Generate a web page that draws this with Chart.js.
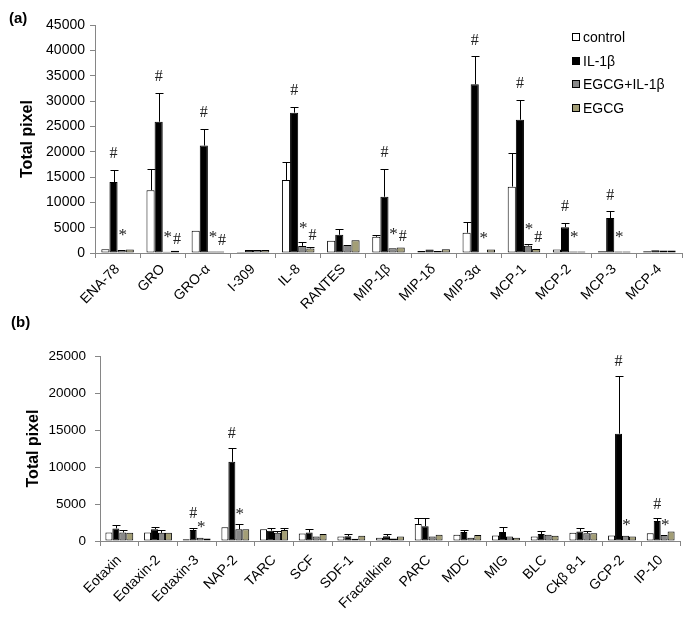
<!DOCTYPE html>
<html><head><meta charset="utf-8">
<script src="https://cdn.jsdelivr.net/npm/chart.js@4.4.1/dist/chart.umd.min.js"></script>
<style>
html,body{margin:0;padding:0;background:#fff;}
#wrap{position:relative;width:690px;height:626px;overflow:hidden;}
#ca{position:absolute;left:0;top:0;}
#cb{position:absolute;left:0;top:310px;}
.lbl{position:absolute;font:bold 15px "Liberation Sans",Arial,sans-serif;color:#000;}
</style></head><body>
<div id="wrap">
<canvas id="ca" width="690" height="310"></canvas>
<canvas id="cb" width="690" height="316"></canvas>
<div class="lbl" style="left:9px;top:9px">(a)</div>
<div class="lbl" style="left:11px;top:313px">(b)</div>
</div>
<script>
// ---------- Panel (a) data ----------
const catsA = ['ENA-78','GRO','GRO-α','I-309','IL-8','RANTES','MIP-1β','MIP-1δ','MIP-3α','MCP-1','MCP-2','MCP-3','MCP-4'];
const controlA    = [750, 12400, 4400, 200, 14400, 2400, 3200, 400, 4000, 13100, 700, 350, 350];
const controlErrA = [0, 4200, 0, 0, 3600, 0, 400, 0, 2100, 6700, 0, 0, 0];
const il1bA       = [14000, 25900, 21200, 600, 27700, 3600, 11100, 700, 33300, 26300, 5100, 6900, 550];
const il1bErrA    = [2400, 5700, 3300, 0, 1200, 1150, 5500, 0, 5500, 3900, 800, 1300, 0];
const combA       = [600, 250, 300, 600, 1400, 1600, 950, 400, 150, 1450, 300, 300, 500];
const combErrA    = [0, 0, 0, 0, 700, 0, 0, 0, 0, 400, 0, 0, 0];
const egcgA       = [700, 450, 300, 600, 900, 2500, 1100, 750, 700, 800, 300, 300, 500];
const egcgErrA    = [0, 0, 0, 0, 300, 0, 0, 0, 0, 0, 0, 0, 0];
const il1bMarksA  = ['#','#','#','','#','','#','','#','#','#','#',''];
const combMarksA  = ['*','*','*','','*','','*','','*','*','*','*',''];
const egcgMarksA  = ['','#','#','','#','','#','','','#','','',''];
const ticksA = {min:0, max:45000, step:5000};

// ---------- Panel (b) data ----------
const catsB = ['Eotaxin','Eotaxin-2','Eotaxin-3','NAP-2','TARC','SCF','SDF-1','Fractalkine','PARC','MDC','MIG','BLC','Ckβ 8-1','GCP-2','IP-10'];
const controlB    = [1150, 1150, 230, 1850, 1600, 1000, 600, 450, 2300, 850, 750, 600, 1100, 750, 1050];
const controlErrB = [0, 0, 0, 0, 0, 0, 0, 0, 800, 0, 0, 0, 0, 0, 0];
const il1bB       = [1700, 1600, 1500, 10700, 1400, 1150, 650, 650, 2000, 1200, 1200, 950, 1300, 14500, 2700];
const il1bErrB    = [500, 300, 250, 1900, 300, 450, 300, 300, 1100, 300, 650, 350, 400, 7800, 350];
const combB       = [1150, 1100, 450, 1600, 1100, 600, 300, 350, 600, 450, 600, 850, 1050, 700, 800];
const combErrB    = [350, 400, 0, 650, 300, 0, 0, 0, 0, 0, 0, 0, 300, 0, 0];
const egcgB       = [1100, 1100, 350, 1600, 1500, 950, 700, 600, 850, 800, 450, 700, 1050, 600, 1300];
const egcgErrB    = [0, 0, 0, 0, 250, 0, 0, 0, 0, 0, 0, 0, 0, 0, 0];
const il1bMarksB  = ['','','#','#','','','','','','','','','','#','#'];
const combMarksB  = ['','','*','*','','','','','','','','','','*','*'];
const ticksB = {min:0, max:25000, step:5000};

const seriesNames = ['control','IL-1β','EGCG+IL-1β','EGCG'];
const seriesColors = ['#ffffff','#000000','#888888','#a39e76'];

const FONT = '"Liberation Sans", Arial, sans-serif';
const AXIS = '#868686';

const errPlugin = {
  id:'errbars',
  afterDatasetsDraw(chart){
    const ctx = chart.ctx, ys = chart.scales.y;
    chart.data.datasets.forEach((ds,i)=>{
      const meta = chart.getDatasetMeta(i);
      meta.data.forEach((bar,j)=>{
        const e = ds.err ? ds.err[j] : 0;
        if(!e) return;
        const top = Math.round(ys.getPixelForValue(ds.data[j]+e))+0.5;
        const x = Math.round(bar.x)+0.5;
        ctx.save();
        ctx.strokeStyle='#000'; ctx.lineWidth=1;
        ctx.beginPath();
        ctx.moveTo(x, bar.y); ctx.lineTo(x, top);
        ctx.moveTo(x-4, top); ctx.lineTo(x+4, top);
        ctx.stroke();
        ctx.restore();
      });
    });
  }
};

const markPlugin = {
  id:'marks',
  afterDatasetsDraw(chart){
    const ctx = chart.ctx, ys = chart.scales.y;
    chart.data.datasets.forEach((ds,i)=>{
      if(!ds.marks) return;
      const meta = chart.getDatasetMeta(i);
      meta.data.forEach((bar,j)=>{
        const m = ds.marks[j]; if(!m) return;
        const e = ds.err ? ds.err[j] : 0;
        const top = ys.getPixelForValue(ds.data[j]+e);
        ctx.save();
        ctx.fillStyle='#222';
        ctx.textAlign='center'; ctx.textBaseline='middle';
        ctx.font = (m==='*' ? '17px ' : '16px ') + '"Liberation Serif", "Times New Roman", serif';
        ctx.fillText(m, bar.x + (ds.markDx||0), top - ds.markGap);
        ctx.restore();
      });
    });
  }
};

const legendPlugin = {
  id:'boxlegend',
  afterDraw(chart, args, opts){
    if(!opts || !opts.show) return;
    const ctx = chart.ctx;
    const rowsY = [37, 61, 84, 108];
    chart.data.datasets.forEach((ds,i)=>{
      const y = rowsY[i];
      ctx.save();
      ctx.fillStyle = ds.backgroundColor;
      ctx.fillRect(572, y-4, 8, 8);
      ctx.strokeStyle='#000'; ctx.lineWidth=1;
      ctx.strokeRect(572.5, y-3.5, 7, 7);
      ctx.fillStyle='#000';
      ctx.font = '14px ' + FONT;
      ctx.textAlign='left'; ctx.textBaseline='middle';
      ctx.fillText(ds.label, 583, y+1);
      ctx.restore();
    });
  }
};

function makeDatasets(vals, errs, marks, gaps){
  return vals.map((v,i)=>({
    label: seriesNames[i],
    data: v,
    err: errs[i],
    marks: marks[i],
    markGap: gaps[i],
    markDx: i===2 ? 1 : (i===3 ? 2 : 0),
    backgroundColor: seriesColors[i],
    borderColor: '#000',
    borderWidth: 1,
    borderSkipped: false,
    barPercentage: 1.0,
    categoryPercentage: 0.72
  }));
}

function makeChart(id, cats, datasets, tk, o, showLegend){
  return new Chart(document.getElementById(id), {
    type:'bar',
    data:{labels:cats, datasets:datasets},
    options:{
      responsive:false, animation:false, devicePixelRatio:1,
      layout:{padding:o.pad},
      plugins:{legend:{display:false}, tooltip:{enabled:false}, boxlegend:{show:showLegend}},
      scales:{
        x:{
          offset:true,
          grid:{offset:true, drawOnChartArea:false, drawTicks:true, tickLength:5, color:AXIS},
          border:{display:true, color:AXIS},
          ticks:{minRotation:45, maxRotation:45, autoSkip:false, padding:o.xPad, color:'#000', font:{family:FONT, size:o.xFont}},
          afterFit(s){ s.height = o.xHeight; }
        },
        y:{
          min:tk.min, max:tk.max,
          grid:{drawOnChartArea:false, drawTicks:true, tickLength:5, color:AXIS},
          border:{display:true, color:AXIS},
          ticks:{stepSize:tk.step, padding:o.tickPad, color:'#000', font:{family:FONT, size:o.yFont},
                 callback:(v)=>String(v)},
          title:{display:true, text:'Total pixel', color:'#000', font:{family:FONT, size:16, weight:'bold'}, padding:{top:o.titlePad, bottom:0}},
          afterFit(s){ s.width = o.yWidth; }
        }
      }
    },
    plugins:[errPlugin, markPlugin, legendPlugin]
  });
}

const dsA = makeDatasets([controlA, il1bA, combA, egcgA],
                         [controlErrA, il1bErrA, combErrA, egcgErrA],
                         [null, il1bMarksA, combMarksA, egcgMarksA],
                         [0, 16, 14, 11]);
makeChart('ca', catsA, dsA, ticksA,
  {pad:{top:25,right:8,left:0,bottom:0}, tickPad:5, titlePad:18, yWidth:95, xHeight:57, xPad:3, xFont:14, yFont:14}, true);

const dsB = makeDatasets([controlB, il1bB, combB, egcgB],
                         [controlErrB, il1bErrB, combErrB, egcgErrB],
                         [null, il1bMarksB, combMarksB, null],
                         [0, 14, 10, 10]);
makeChart('cb', catsB, dsB, ticksB,
  {pad:{top:46,right:10,left:0,bottom:0}, tickPad:9, titlePad:24, yWidth:100, xHeight:85, xPad:6, xFont:14, yFont:13.5}, false);
</script>
</body></html>
